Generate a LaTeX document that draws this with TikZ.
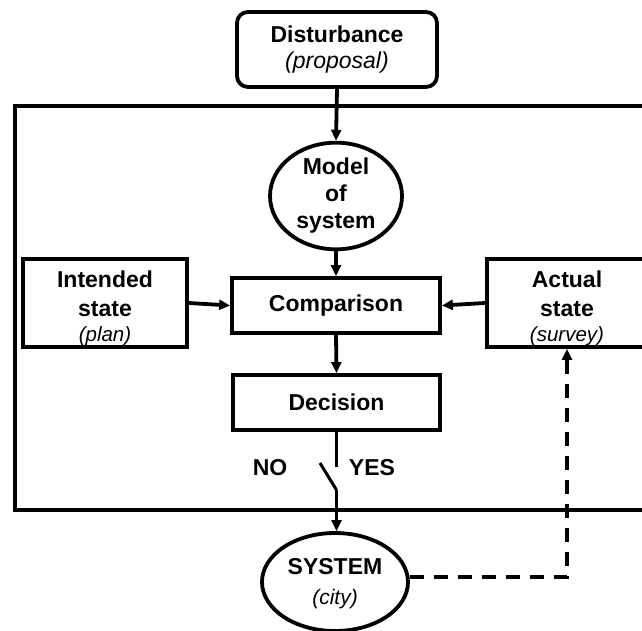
\documentclass[tikz,border=0pt]{standalone}
\usepackage{fontspec}
\setmainfont{Liberation Sans}
\usetikzlibrary{shapes.geometric,arrows.meta}
\begin{document}
\begin{tikzpicture}[x=1pt,y=-1pt,
  line width=3.8pt,
  every node/.style={align=center, inner sep=0pt, font=\fontsize{23}{27}\selectfont\bfseries},
  box/.style={draw, rectangle},
  oval/.style={draw, ellipse},
  arr/.style={-{Triangle[length=11pt,width=10pt]}},
]
\useasboundingbox (0,0) rectangle (642,631);
\clip (0,0) rectangle (642,631);

% outer loop frame (open to the right)
\draw (15,106) rectangle (700,510);

% blocks
\node[box, rounded corners=11pt, minimum width=200pt, minimum height=75pt] (dist) at (337,49.5)
  {Disturbance\\[-1pt]{\fontsize{23}{27}\selectfont\mdseries\itshape (proposal)}};
\node[oval, minimum width=132pt, minimum height=88pt] (model) at (336,196)
  {Model\\of\\system};
\node[box, minimum width=164pt, minimum height=88pt] (intended) at (105,303) {};
\node (intendedtext) at (105,308)
  {Intended\\[2pt]state\\[-2pt]{\fontsize{20.5}{24}\selectfont\mdseries\itshape (plan)}};
\node[box, minimum width=208pt, minimum height=55pt] (comp) at (336,305.5) {Comparison};
\node[box, minimum width=160pt, minimum height=88pt] (actual) at (567,303) {};
\node (actualtext) at (567,308)
  {Actual\\[2pt]state\\[-2pt]{\fontsize{20.5}{24}\selectfont\mdseries\itshape (survey)}};
\node[box, minimum width=207pt, minimum height=55pt] (dec) at (336.5,402.5) {Decision};
\node[oval, minimum width=146pt, minimum height=98pt] (sys) at (335,582) {};
\node (systext) at (335,584)
  {SYSTEM\\[3pt]{\fontsize{21}{25}\selectfont\mdseries\itshape (city)}};

% switch labels
\node (no) at (270,468) {NO};
\node (yes) at (372,468) {YES};

% switch contacts
\coordinate (sw1) at (dec.south |- 0,467);
\coordinate (sw2) at (320,463);
\coordinate (sw3) at (dec.south |- 0,490);

% connectors
\draw[arr] (dist.south) -- (model.north);
\draw[arr] (model.south) -- (model.south |- comp.north);
\draw[arr] (intended.east) -- (comp.west);
\draw[arr] (actual.west) -- (comp.east);
\draw[arr] (comp.south) -- (dec.north);
\draw (dec.south) -- (sw1);
\draw[line width=3pt] (sw2) -- (sw3);
\draw[arr] (sw3) -- (sw3 |- sys.north);
\draw[arr, dashed, dash pattern=on 14pt off 10pt] (sys.4) -| (actual.south);
\end{tikzpicture}
\end{document}
